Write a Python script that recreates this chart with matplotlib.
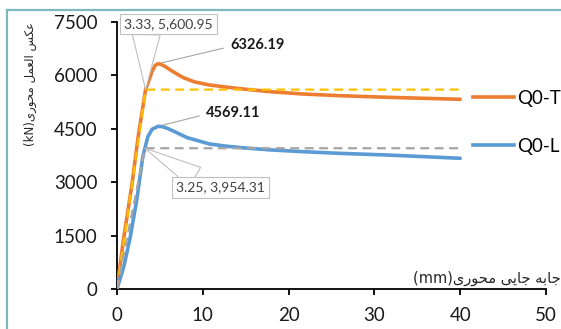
import matplotlib
matplotlib.use("Agg")
import matplotlib.pyplot as plt
from matplotlib.lines import Line2D

# Load-displacement curves (displacement in mm, axial reaction in kN)
disp_t = [0, 0.7, 1.75, 2.45, 3.33, 3.7, 4.1, 4.45, 4.75, 5.1, 5.6, 6.5, 7.7,
          9, 10.8, 12.8, 15, 18, 21.7, 26, 31.5, 36, 40]
load_t = [0, 1300, 2950, 4250, 5600.95, 5850, 6120, 6280, 6326.19, 6315, 6250,
          6110, 5940, 5820, 5730, 5670, 5610, 5540, 5477, 5430, 5385, 5355, 5329]

disp_l = [0, 0.8, 1.5, 2.3, 3.0, 3.25, 3.6, 4.1, 4.8, 5.3, 5.9, 6.8, 8.2, 10.8,
          12.8, 15, 18, 21.7, 26, 31.5, 36, 40]
load_l = [0, 640, 1400, 2500, 3700, 3954.31, 4280, 4490, 4569.11, 4560, 4510,
          4410, 4250, 4073, 4010, 3960, 3905, 3857, 3810, 3764, 3715, 3671]

# Bilinear idealisations (origin, yield point, end)
ideal_t_x = [0, 3.33, 40]
ideal_t_y = [0, 5600.95, 5600.95]
ideal_l_x = [0, 3.25, 40]
ideal_l_y = [0, 3954.31, 3954.31]

series_names = ["Q0-T", "Q0-L"]
x_ticks = [0, 10, 20, 30, 40, 50]
y_ticks = [0, 1500, 3000, 4500, 6000, 7500]

ORANGE = "#ED7D31"
BLUE = "#5B9BD5"
YELLOW = "#FFC000"
GREY = "#A5A5A5"

# Persian axis titles, written in presentation forms in visual order
xlabel_fa = "(mm)" + "\uFBFC\uFEAD\uFEEE\uFEA4\uFEE3" + " " + \
    "\uFBFD\uFBFE\uFE8E\uFE9F" + " " + "\uFEEA\uFE91\uFE8E\uFE9F"
ylabel_fa = "(kN)" + "\uFBFC\uFEAD\uFEEE\uFEA4\uFEE3" + " " + \
    "\uFEDE\uFEE4\uFECC\uFEDF\uFE8D" + " " + "\uFEB2\uFB91\uFECB"

W, H = 561, 329
fig = plt.figure(figsize=(W / 100, H / 100), dpi=100)
ax = fig.add_axes([117 / W, 1 - 289 / H, (546 - 117) / W, (289 - 22) / H])

ax.plot(disp_t, load_t, color=ORANGE, lw=2.6, solid_capstyle="round",
        solid_joinstyle="round", zorder=3)
ax.plot(disp_l, load_l, color=BLUE, lw=2.6, solid_capstyle="round",
        solid_joinstyle="round", zorder=3)
ax.plot(ideal_t_x, ideal_t_y, color=YELLOW, lw=1.6, dashes=(4, 2.5), zorder=4)
ax.plot(ideal_l_x, ideal_l_y, color=GREY, lw=1.6, dashes=(4, 2.5), zorder=4)

ax.set_xlim(x_ticks[0], x_ticks[-1])
ax.set_ylim(y_ticks[0], y_ticks[-1])
ax.set_xticks(x_ticks)
ax.set_yticks(y_ticks)
for s in ["top", "right"]:
    ax.spines[s].set_visible(False)
for s in ["left", "bottom"]:
    ax.spines[s].set_linewidth(1.3)
    ax.spines[s].set_color("#000000")
ax.tick_params(axis="y", direction="out", length=4, width=1.3, pad=10,
               labelsize=13.5, labelcolor="#1a1a1a")
ax.tick_params(axis="x", direction="out", length=4, width=1.3, pad=9,
               labelsize=13.5, labelcolor="#1a1a1a")
for lab in ax.get_xticklabels() + ax.get_yticklabels():
    lab.set_fontfamily("Lato")

# Callouts
box = dict(boxstyle="square,pad=0.3", fc="white", ec="#BFBFBF", lw=0.8)
ax.annotate(f"{ideal_t_x[1]:.2f}, {ideal_t_y[1]:,.2f}",
            xy=(ideal_t_x[1], ideal_t_y[1]), xytext=(6.0, 7440),
            ha="center", va="center", fontsize=10, family="Lato",
            color="#404040", bbox=box, annotation_clip=False, zorder=6,
            arrowprops=dict(arrowstyle="wedge,tail_width=2.0", fc="white",
                            ec="#BFBFBF", lw=0.8, relpos=(0.25, 0),
                            shrinkA=0, shrinkB=0))
ax.annotate(f"{ideal_l_x[1]:.2f}, {ideal_l_y[1]:,.2f}",
            xy=(ideal_l_x[1], ideal_l_y[1]), xytext=(12.1, 2850),
            ha="center", va="center", fontsize=10, family="Lato",
            color="#404040", bbox=box, annotation_clip=False, zorder=6,
            arrowprops=dict(arrowstyle="wedge,tail_width=1.6", fc="white",
                            ec="#BFBFBF", lw=0.8, relpos=(0.3, 1),
                            shrinkA=0, shrinkB=0))

peak_t = max(load_t)
peak_l = max(load_l)
ax.annotate(f"{peak_t:.2f}", xy=(disp_t[load_t.index(peak_t)], peak_t),
            xytext=(13.2, 6850), ha="left", va="center", fontsize=10.5,
            fontweight="bold", family="Lato", color="#1a1a1a", zorder=6,
            arrowprops=dict(arrowstyle="-", color="#A6A6A6", lw=0.8,
                            relpos=(0, 0.4), shrinkA=3, shrinkB=3))
ax.annotate(f"{peak_l:.2f}", xy=(disp_l[load_l.index(peak_l)], peak_l),
            xytext=(10.4, 4950), ha="left", va="center", fontsize=10.5,
            fontweight="bold", family="Lato", color="#1a1a1a", zorder=6,
            arrowprops=dict(arrowstyle="-", color="#A6A6A6", lw=0.8,
                            relpos=(0, 0.4), shrinkA=3, shrinkB=3))

# Legend on the right
handles = [Line2D([], [], color=ORANGE, lw=2.6), Line2D([], [], color=BLUE, lw=2.6)]
fig.legend(handles, series_names, loc="upper left",
           bbox_to_anchor=(473 / W, 1 - 90 / H), frameon=False,
           prop=dict(family="Lato", size=13.5), handlelength=2.2,
           handletextpad=0.15, labelspacing=1.65, borderpad=0, borderaxespad=0)

# Axis titles
fig.text(413 / W, 1 - 283 / H, xlabel_fa, ha="left", va="baseline",
         fontsize=10.5, family=["DejaVu Sans"], color="#262626")
fig.text(30 / W, 1 - 84 / H, ylabel_fa, ha="center", va="center",
         rotation=90, fontsize=8.5, family=["DejaVu Sans"], color="#262626")

# Chart frame
frame_c = "#7DB9BE"
fig.add_artist(Line2D([7 / W, 1.0], [1 - 10 / H, 1 - 10 / H], color=frame_c,
                      lw=1.6, transform=fig.transFigure))
fig.add_artist(Line2D([7 / W, 7 / W], [0.0, 1 - 10 / H], color=frame_c,
                      lw=1.6, transform=fig.transFigure))

fig.savefig("out.png", dpi=100)
